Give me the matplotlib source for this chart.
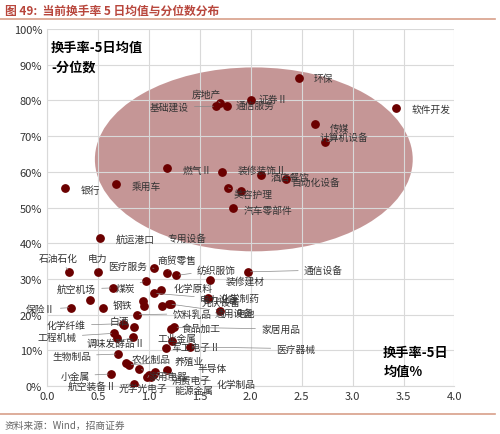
import matplotlib
matplotlib.use("Agg")
import matplotlib.pyplot as plt
from matplotlib.patches import Ellipse

plt.rcParams['font.family'] = ['Noto Sans CJK SC', 'DejaVu Sans']

names = ['银行','乘用车','燃气Ⅱ','装修装饰Ⅱ','酒店餐饮','自动化设备','美容护理','','汽车零部件',
         '房地产','基础建设','通信服务','证券Ⅱ','环保','软件开发','传媒','计算机设备',
         '航运港口','石油石化','电力','医疗服务','商贸零售','纺织服饰','装修建材','通信设备',
         '航空机场','煤炭','化学原料','电力设备','化学制药','通用设备','电池','保险Ⅱ','','',
         '钢铁','','光伏设备','','饮料乳品','化学纤维','白酒','','食品加工','家居用品','工程机械','',
         '调味发酵品Ⅱ','工业金属','军工电子Ⅱ','医疗器械','生物制品','农化制品','养殖业','小金属',
         '家用电器','半导体','','消费电子','化学制品','航空装备Ⅱ','光学光电子','能源金属']
turnover = [0.18,0.68,1.18,1.72,2.10,2.35,1.78,1.90,1.83,
            1.70,1.66,1.77,2.00,2.47,3.43,2.63,2.73,
            0.52,0.22,0.50,1.05,1.18,1.27,1.60,1.97,
            0.65,0.97,1.12,1.05,1.58,1.20,1.70,0.24,0.42,0.55,
            0.94,0.95,1.22,1.13,0.88,0.75,0.76,0.85,1.22,1.25,0.66,0.69,
            0.84,1.23,1.17,1.40,0.70,0.78,0.80,0.63,
            0.90,1.18,0.98,1.02,1.06,0.85,1.00,1.05]
pct = [55.5,56.5,61.0,60.0,59.0,58.0,55.5,54.7,50.0,
       79.3,78.4,78.4,80.0,86.3,78.0,73.4,68.3,
       41.5,32.0,32.0,33.0,31.8,31.0,29.7,32.0,
       27.5,29.5,27.0,26.0,24.6,23.0,21.0,22.0,24.0,22.0,
       23.8,22.4,23.0,22.5,20.0,17.5,17.0,16.5,16.0,16.5,14.8,13.4,
       13.7,12.6,10.8,11.0,9.0,6.5,6.0,3.4,
       4.8,4.5,2.5,2.5,4.0,0.6,3.0,3.5]

# label offsets (layout only)
off = {'银行':(0.15,-0.5),'乘用车':(0.15,-0.5),'燃气Ⅱ':(0.15,-0.5),'装修装饰Ⅱ':(0.15,0.5),
       '酒店餐饮':(0.1,-0.5),'自动化设备':(0.05,-0.8),'美容护理':(0.05,-1.8),'汽车零部件':(0.1,-0.5),
       '房地产':(-0.28,2.5),'基础建设':(-0.65,-0.3),'通信服务':(0.08,0.3),'证券Ⅱ':(0.08,0.3),
       '环保':(0.15,0),'软件开发':(0.15,-0.5),'传媒':(0.15,-1.0),'计算机设备':(-0.05,1.5),
       '航运港口':(0.15,-0.3),'石油石化':(-0.3,4.0),'电力':(-0.1,4.0),
       '医疗服务':(-0.45,0.7),'商贸零售':(-0.1,3.5),'纺织服饰':(0.2,1.5),'装修建材':(0.15,-0.3),
       '通信设备':(0.55,0.5),'航空机场':(-0.55,-0.3),'煤炭':(-0.3,-2.0),'化学原料':(0.12,0.5),
       '电力设备':(0.45,-1.5),'化学制药':(0.12,0),'通用设备':(0.45,-2.5),'电池':(0.15,-0.5),
       '保险Ⅱ':(-0.45,-0.5),'钢铁':(-0.3,-1.0),'光伏设备':(0.3,0.5),'饮料乳品':(0.35,0.3),
       '化学纤维':(-0.75,-0.5),'白酒':(-0.15,1.2),'食品加工':(0.1,0.3),'家居用品':(0.85,-0.5),
       '工程机械':(-0.75,-1.0),'调味发酵品Ⅱ':(-0.45,-1.5),'工业金属':(-0.15,1.0),'军工电子Ⅱ':(0.05,0.2),
       '医疗器械':(0.85,-0.5),'生物制品':(-0.65,-0.5),'农化制品':(0.05,1.0),'养殖业':(0.45,1.0),
       '小金属':(-0.5,-0.5),'家用电器':(0.1,-2.0),'半导体':(0.3,0.5),'消费电子':(0.2,-0.8),
       '化学制品':(0.6,-3.5),'航空装备Ⅱ':(-0.65,-0.5),'光学光电子':(-0.3,-3.5),'能源金属':(0.2,-4.5)}

fig = plt.figure(figsize=(5, 4.35), dpi=100)
ax = fig.add_axes([0.094, 0.110, 0.815, 0.821])
ax.add_patch(Ellipse((2.03, 63.5), 3.12, 51.5, facecolor='#bf8b8b', edgecolor='none', alpha=0.9, zorder=1))
ax.scatter(turnover, pct, s=28, color='#6b0000', zorder=3)
for n, x, y in zip(names, turnover, pct):
    if not n:
        continue
    dx, dy = off.get(n, (0.1, 0))
    ax.annotate(n, (x, y), xytext=(x + dx, y + dy), fontsize=7, color='#333333',
                va='center', zorder=4,
                arrowprops=dict(arrowstyle='-', color='#888888', lw=0.5) if abs(dx) > 0.3 or abs(dy) > 1.4 else None)
ax.text(1.18, 41.5, '专用设备', fontsize=7, color='#333333', va='center', zorder=4)

ax.set_xlim(0, 4.0)
ax.set_ylim(0, 100)
ax.set_xticks([0, 0.5, 1.0, 1.5, 2.0, 2.5, 3.0, 3.5, 4.0])
ax.set_xticklabels(['0.0','0.5','1.0','1.5','2.0','2.5','3.0','3.5','4.0'])
ax.set_yticks(range(0, 101, 10))
ax.set_yticklabels([f'{v}%' for v in range(0, 101, 10)])
ax.tick_params(labelsize=8, colors='#333333', length=0)
ax.grid(True, color='#d9d9d9', lw=0.8, zorder=0)
for s in ax.spines.values():
    s.set_visible(False)
ax.spines['left'].set_visible(True); ax.spines['left'].set_color('#d9d9d9')
ax.spines['bottom'].set_visible(True); ax.spines['bottom'].set_color('#d9d9d9')
ax.text(0.04, 97, '换手率-5日均值\n-分位数', fontsize=9.5, fontweight='bold', va='top', linespacing=1.5)
ax.text(3.3, 7, '换手率-5日\n均值%', fontsize=9.5, fontweight='bold', va='center', linespacing=1.5)

fig.text(0.01, 0.975, '图 49:  当前换手率 5 日均值与分位数分布', fontsize=8.5, color='#b8463c', fontweight='bold', va='center')
fig.add_artist(plt.Line2D([0.0, 0.99], [0.955, 0.955], color='#d8a08a', lw=1.2))
fig.add_artist(plt.Line2D([0.0, 0.99], [0.045, 0.045], color='#d8a08a', lw=1.2))
fig.text(0.01, 0.022, '资料来源：Wind，招商证券', fontsize=7, color='#666666', va='center')
fig.savefig('out.png', dpi=100)
